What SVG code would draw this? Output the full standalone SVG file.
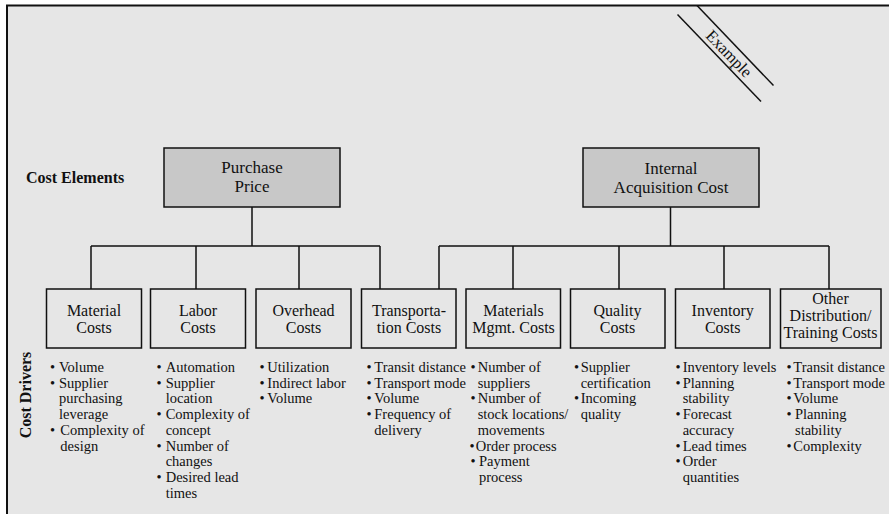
<svg xmlns="http://www.w3.org/2000/svg" width="889" height="514" viewBox="0 0 889 514">
<style>
.t{font-family:"Liberation Serif","Times New Roman",serif;fill:#111}
.lbl{font-size:16px;text-anchor:middle}
.big{font-size:17px}
.b{font-size:14.5px}
.hd{font-size:16px;font-weight:bold}
.box{fill:#e6e6e6;stroke:#111;stroke-width:1.5}
.top{fill:#c8c8c8;stroke:#111;stroke-width:1.5}
.ln{stroke:#111;stroke-width:1.5;fill:none}
</style>
<rect x="0" y="0" width="889" height="514" fill="#ffffff"/>
<rect x="7" y="5.5" width="882" height="508.5" fill="#e6e6e6"/>
<path d="M7 514 V5.5 H889" stroke="#111" stroke-width="2" fill="none"/>

<g id="example">
<line class="ln" x1="697" y1="5.5" x2="773.5" y2="85.5" stroke-width="1.2"/>
<line class="ln" x1="677.5" y1="14.5" x2="761" y2="101.5" stroke-width="1.2"/>
<text class="t" font-size="16.5" text-anchor="middle" transform="translate(725 57.5) rotate(46)">Example</text>
</g>

<g id="labels">
<text class="t hd" x="26" y="183">Cost Elements</text>
<text class="t hd" font-size="15.5" text-anchor="middle" transform="translate(30.5 395) rotate(-90)">Cost Drivers</text>
</g>

<g id="connectors">
<path class="ln" d="M252 207 V246 M91 246 H380 M91 246 V289 M196 246 V289 M299 246 V289 M380 246 V289"/>
<path class="ln" d="M670.5 207 V246 M439 246 H829 M439 246 V289 M513 246 V289 M619 246 V289 M724 246 V289 M829 246 V289"/>
</g>

<g id="purchase-price">
<rect class="top" x="164" y="148" width="176" height="59"/>
<text class="t lbl big" x="252" y="172.5">Purchase</text>
<text class="t lbl big" x="252" y="192">Price</text>
</g>
<g id="internal-acquisition-cost">
<rect class="top" x="583" y="148" width="176" height="59"/>
<text class="t lbl big" x="671" y="173.5">Internal</text>
<text class="t lbl big" x="671" y="193">Acquisition Cost</text>
</g>

<g id="material-costs">
<rect class="box" x="46.5" y="289" width="95" height="59"/>
<text class="t lbl" x="94" y="316">Material</text>
<text class="t lbl" x="94" y="332.7">Costs</text>
<g class="t b">
<text x="50" y="372">•</text><text x="59" y="372">Volume</text>
<text x="50" y="387.7">•</text><text x="59" y="387.7">Supplier</text>
<text x="59" y="403.4">purchasing</text>
<text x="59" y="419.1">leverage</text>
<text x="50" y="434.8">•</text><text x="60.3" y="434.8">Complexity of</text>
<text x="60.3" y="450.5">design</text>
</g>
</g>

<g id="labor-costs">
<rect class="box" x="150.5" y="289" width="95" height="59"/>
<text class="t lbl" x="198" y="316">Labor</text>
<text class="t lbl" x="198" y="332.7">Costs</text>
<g class="t b">
<text x="156.5" y="372">•</text><text x="165.7" y="372">Automation</text>
<text x="156.5" y="387.7">•</text><text x="165.7" y="387.7">Supplier</text>
<text x="165.7" y="403.4">location</text>
<text x="156.5" y="419.1">•</text><text x="165.7" y="419.1">Complexity of</text>
<text x="165.7" y="434.8">concept</text>
<text x="156.5" y="450.5">•</text><text x="165.7" y="450.5">Number of</text>
<text x="165.7" y="466.2">changes</text>
<text x="156.5" y="481.9">•</text><text x="165.7" y="481.9">Desired lead</text>
<text x="165.7" y="497.6">times</text>
</g>
</g>

<g id="overhead-costs">
<rect class="box" x="256" y="289" width="95" height="59"/>
<text class="t lbl" x="303.5" y="316">Overhead</text>
<text class="t lbl" x="303.5" y="332.7">Costs</text>
<g class="t b">
<text x="259.5" y="372">•</text><text x="267.3" y="372">Utilization</text>
<text x="259.5" y="387.7">•</text><text x="267.3" y="387.7">Indirect labor</text>
<text x="259.5" y="403.4">•</text><text x="267.3" y="403.4">Volume</text>
</g>
</g>

<g id="transportation-costs">
<rect class="box" x="361.5" y="289" width="94.5" height="59"/>
<text class="t lbl" x="409" y="316">Transporta-</text>
<text class="t lbl" x="409" y="332.7">tion Costs</text>
<g class="t b">
<text x="366.5" y="372">•</text><text x="374.3" y="372">Transit distance</text>
<text x="366.5" y="387.7">•</text><text x="374.3" y="387.7">Transport mode</text>
<text x="366.5" y="403.4">•</text><text x="374.3" y="403.4">Volume</text>
<text x="366.5" y="419.1">•</text><text x="374.3" y="419.1">Frequency of</text>
<text x="374.3" y="434.8">delivery</text>
</g>
</g>

<g id="materials-mgmt-costs">
<rect class="box" x="466" y="289" width="94.5" height="59"/>
<text class="t lbl" x="513.5" y="316">Materials</text>
<text class="t lbl" x="513.5" y="332.7">Mgmt. Costs</text>
<g class="t b">
<text x="470.5" y="372">•</text><text x="477.7" y="372">Number of</text>
<text x="477.7" y="387.7">suppliers</text>
<text x="470.5" y="403.4">•</text><text x="477.7" y="403.4">Number of</text>
<text x="477.7" y="419.1">stock locations/</text>
<text x="477.7" y="434.8">movements</text>
<text x="469.5" y="450.5">•</text><text x="475.7" y="450.5">Order process</text>
<text x="470.5" y="466.2">•</text><text x="479" y="466.2">Payment</text>
<text x="479" y="481.9">process</text>
</g>
</g>

<g id="quality-costs">
<rect class="box" x="570.5" y="289" width="94.5" height="59"/>
<text class="t lbl" x="617.5" y="316">Quality</text>
<text class="t lbl" x="617.5" y="332.7">Costs</text>
<g class="t b">
<text x="574" y="372">•</text><text x="580.7" y="372">Supplier</text>
<text x="580.7" y="387.7">certification</text>
<text x="574" y="403.4">•</text><text x="580.7" y="403.4">Incoming</text>
<text x="580.7" y="419.1">quality</text>
</g>
</g>

<g id="inventory-costs">
<rect class="box" x="675.5" y="289" width="94.5" height="59"/>
<text class="t lbl" x="722.7" y="316">Inventory</text>
<text class="t lbl" x="722.7" y="332.7">Costs</text>
<g class="t b">
<text x="675.5" y="372">•</text><text x="682.7" y="372">Inventory levels</text>
<text x="675.5" y="387.7">•</text><text x="682.7" y="387.7">Planning</text>
<text x="682.7" y="403.4">stability</text>
<text x="675.5" y="419.1">•</text><text x="682.7" y="419.1">Forecast</text>
<text x="682.7" y="434.8">accuracy</text>
<text x="675.5" y="450.5">•</text><text x="682.7" y="450.5">Lead times</text>
<text x="675.5" y="466.2">•</text><text x="682.7" y="466.2">Order</text>
<text x="682.7" y="481.9">quantities</text>
</g>
</g>

<g id="other-distribution-training-costs">
<rect class="box" x="780.5" y="289" width="100.5" height="59"/>
<text class="t lbl" x="830.5" y="304">Other</text>
<text class="t lbl" x="830.5" y="320.7">Distribution/</text>
<text class="t lbl" x="830.5" y="338">Training Costs</text>
<g class="t b">
<text x="786.5" y="372">•</text><text x="793.3" y="372">Transit distance</text>
<text x="786.5" y="387.7">•</text><text x="793.3" y="387.7">Transport mode</text>
<text x="786.5" y="403.4">•</text><text x="793.3" y="403.4">Volume</text>
<text x="786.5" y="419.1">•</text><text x="795" y="419.1">Planning</text>
<text x="795" y="434.8">stability</text>
<text x="786.5" y="450.5">•</text><text x="793.3" y="450.5">Complexity</text>
</g>
</g>
</svg>
